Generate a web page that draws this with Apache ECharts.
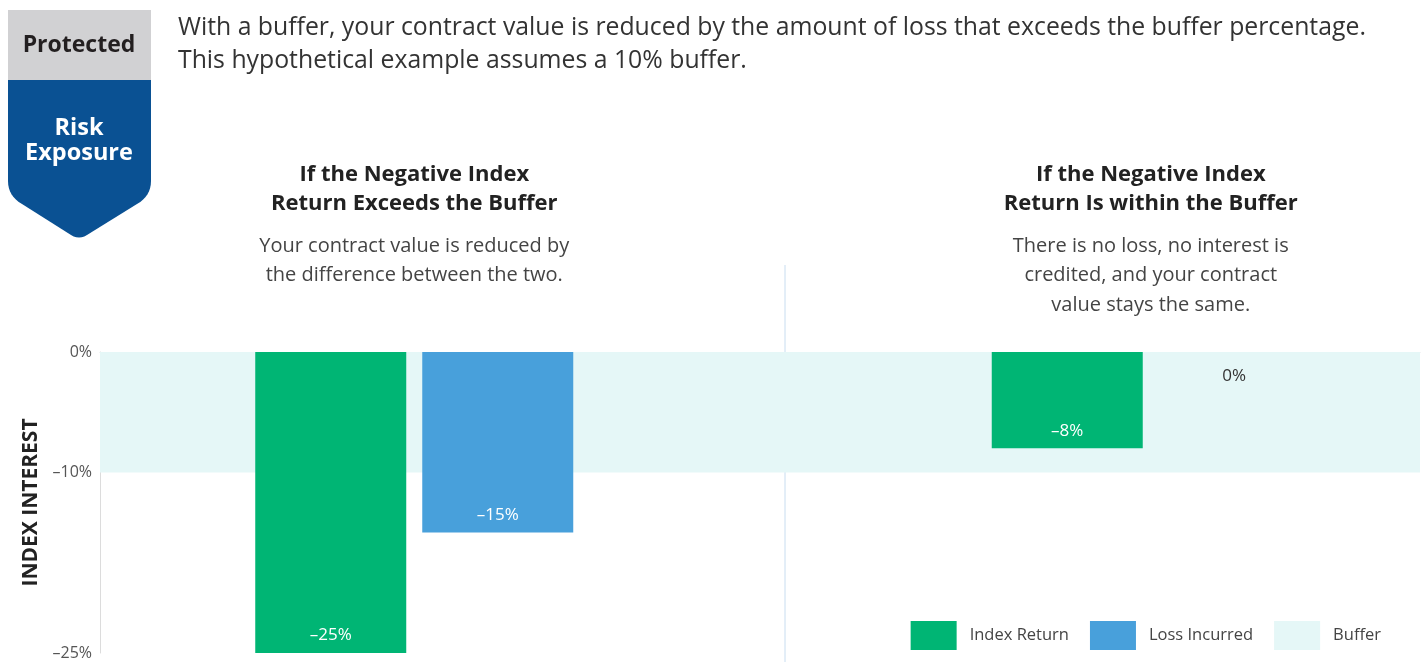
<!DOCTYPE html>
<html><head><meta charset="utf-8">
<script src="https://cdn.jsdelivr.net/npm/echarts@6/dist/echarts.min.js"></script>
<style>html,body{margin:0;padding:0;background:#fff}#c{width:1427px;height:662px}</style>
</head><body><div id="c"></div>
<script>
const categories = ['Exceeds the Buffer', 'Within the Buffer'];
const indexReturn = [-25, -8];
const lossIncurred = [-15, 0];
const bufferRange = [0, -10];
const yTicks = [0, -10, -25];
const legendNames = ['Index Return', 'Loss Incurred', 'Buffer'];
const headline = ['With a buffer, your contract value is reduced by the amount of loss that exceeds the buffer percentage.', 'This hypothetical example assumes a 10% buffer.'];
const panelTitles = [['If the Negative Index', 'Return Exceeds the Buffer'], ['If the Negative Index', 'Return Is within the Buffer']];
const panelNotes = [['Your contract value is reduced by', 'the difference between the two.'], ['There is no loss, no interest is', 'credited, and your contract', 'value stays the same.']];

const FONT = '"Open Sans", Lato, sans-serif';
const GREEN = '#00b574', BLUE = '#48a0db', BUF = '#e5f7f7';
const fmt = v => v === 0 ? '0%' : (v < 0 ? '\u2013' : '') + Math.abs(v) + '%';

const chart = echarts.init(document.getElementById('c'), null, {renderer: 'canvas'});

const barLabel = {show: true, position: 'insideBottom', distance: 9, color: '#fff', fontSize: 17, fontFamily: FONT, formatter: p => fmt(p.value)};

const option = {
  animation: false,
  textStyle: {fontFamily: FONT},
  grid: [
    {left: 100, right: 7, top: 352, bottom: 9, outerBoundsMode: 'none'},
    {left: 46, width: 1473, top: 352, bottom: 9, outerBoundsMode: 'none'}
  ],
  xAxis: [
    {gridIndex: 0, type: 'category', data: categories, position: 'top',
     axisLine: {show: true, lineStyle: {color: '#dfe3e6', width: 1}}, axisTick: {show: false}, axisLabel: {show: false}},
    {gridIndex: 1, type: 'category', data: categories, show: false}
  ],
  yAxis: [
    {gridIndex: 0, type: 'value', min: -25, max: 0, interval: 5,
     name: 'INDEX INTEREST', nameLocation: 'middle', nameGap: 58, nameRotate: 90,
     nameTextStyle: {fontSize: 21, fontWeight: 'bold', color: '#222', fontFamily: FONT},
     axisLine: {show: true, lineStyle: {color: '#dcdcdc'}}, axisTick: {show: false}, splitLine: {show: false},
     axisLabel: {color: '#555', fontSize: 16, margin: 8, fontFamily: FONT,
       formatter: v => yTicks.includes(v) ? fmt(v) : ''}},
    {gridIndex: 1, type: 'value', min: -25, max: 0, show: false}
  ],
  legend: {
    data: legendNames, right: 41, top: 616, icon: 'rect', itemWidth: 46, itemHeight: 29, itemGap: 21,
    textStyle: {fontSize: 16.5, color: '#444', fontFamily: FONT, padding: [0, 0, 0, 8]}
  },
  series: [
    {name: legendNames[2], type: 'bar', xAxisIndex: 0, yAxisIndex: 0, data: [], itemStyle: {color: BUF}, z: 1,
     markArea: {silent: true, itemStyle: {color: BUF}, data: [[{yAxis: bufferRange[0]}, {yAxis: bufferRange[1]}]]}},
    {name: legendNames[0], type: 'bar', xAxisIndex: 1, yAxisIndex: 1, data: indexReturn, barWidth: 151, barGap: '10.6%',
     itemStyle: {color: GREEN}, label: barLabel, z: 3},
    {name: legendNames[1], type: 'bar', xAxisIndex: 1, yAxisIndex: 1, barWidth: 151, barGap: '10.6%', barMinHeight: 1,
     data: lossIncurred.map(v => v === 0 ? {value: v, label: {position: 'bottom', distance: 16, color: '#333'}} : v),
     itemStyle: {color: BLUE}, label: barLabel, z: 3}
  ]
};
chart.setOption(option);

// badge outline (decorative)
function quad(p0, c, p1, n) {
  const pts = [];
  for (let i = 1; i <= n; i++) {
    const t = i / n, u = 1 - t;
    pts.push([u * u * p0[0] + 2 * u * t * c[0] + t * t * p1[0], u * u * p0[1] + 2 * u * t * c[1] + t * t * p1[1]]);
  }
  return pts;
}
const badge = [[8, 80], [151, 80], [151, 181]]
  .concat(quad([151, 181], [151, 196], [137, 204], 8))
  .concat([[87, 235]])
  .concat(quad([87, 235], [79, 240], [71, 235], 6))
  .concat([[22, 204]])
  .concat(quad([22, 204], [8, 196], [8, 181], 8));

const centers = categories.map(c => chart.convertToPixel({xAxisIndex: 1}, c));
const graphics = [
  {type: 'rect', shape: {x: 8, y: 10, width: 143, height: 70}, style: {fill: '#d1d1d3'}},
  {type: 'polygon', shape: {points: badge}, style: {fill: '#0a5193'}},
  {type: 'text', x: 79, y: 45, style: {text: 'Protected', fill: '#231f20', font: 'bold 23px ' + FONT, align: 'center', verticalAlign: 'middle'}},
  {type: 'text', x: 79, y: 140.5, style: {text: 'Risk\nExposure', fill: '#fff', font: 'bold 23.5px ' + FONT, align: 'center', verticalAlign: 'middle', lineHeight: 25}},
  {type: 'text', x: 178, y: 44.5, style: {text: headline.join('\n'), fill: '#333', font: '24.8px ' + FONT, align: 'left', verticalAlign: 'middle', lineHeight: 33}},
  {type: 'line', shape: {x1: 785, y1: 265, x2: 785, y2: 662}, style: {stroke: '#c8ddf0', lineWidth: 1}}
];
centers.forEach((cx, i) => {
  graphics.push({type: 'text', x: cx, y: 160.5, style: {text: panelTitles[i].join('\n'), fill: '#222', font: 'bold 22px ' + FONT, align: 'center', verticalAlign: 'top', lineHeight: 29}});
  graphics.push({type: 'text', x: cx, y: 231, style: {text: panelNotes[i].join('\n'), fill: '#444', font: '20px ' + FONT, align: 'center', verticalAlign: 'top', lineHeight: 29.7}});
});
chart.setOption({graphic: graphics});
</script></body></html>
